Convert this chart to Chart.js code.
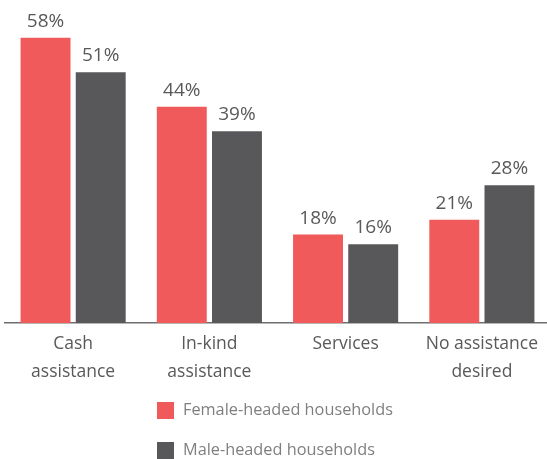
<!DOCTYPE html>
<html>
<head>
<meta charset="utf-8">
<script src="https://cdn.jsdelivr.net/npm/chart.js@4.4.1/dist/chart.umd.min.js"></script>
<style>
  html, body { margin: 0; padding: 0; background: #ffffff; overflow: hidden; }
  #wrap { width: 550px; height: 459px; position: relative; }
</style>
</head>
<body>
<div id="wrap"><canvas id="c"></canvas></div>
<script>
const categories = [["Cash", "assistance"], ["In-kind", "assistance"], ["Services"], ["No assistance", "desired"]];
const femaleValues = [58, 44, 18, 21];
const maleValues = [51, 39, 16, 28];
const seriesNames = ["Female-headed households", "Male-headed households"];
const seriesColors = ["#F05A5B", "#58585A"];

const FONT = "'Open Sans', 'Noto Sans', sans-serif";

const valueLabels = {
  id: 'valueLabels',
  afterDatasetsDraw(chart) {
    const ctx = chart.ctx;
    ctx.save();
    ctx.font = "19px " + FONT;
    ctx.fillStyle = "#595959";
    ctx.textAlign = "center";
    ctx.textBaseline = "alphabetic";
    chart.data.datasets.forEach((ds, di) => {
      const meta = chart.getDatasetMeta(di);
      meta.data.forEach((el, i) => {
        ctx.fillText(ds.data[i] + "%", el.x, el.y - 11);
      });
    });
    ctx.restore();
  }
};

const stackedLegend = {
  id: 'stackedLegend',
  afterDraw(chart) {
    const ctx = chart.ctx;
    ctx.save();
    ctx.font = "16.3px " + FONT;
    ctx.textAlign = "left";
    ctx.textBaseline = "middle";
    chart.data.datasets.forEach((ds, di) => {
      const cy = 410.5 + di * 40;
      ctx.fillStyle = ds.backgroundColor;
      ctx.fillRect(157, cy - 8.5, 17, 17);
      ctx.fillStyle = "#7F7F7F";
      ctx.fillText(ds.label, 183, cy);
    });
    ctx.restore();
  }
};

new Chart(document.getElementById('c'), {
  type: 'bar',
  data: {
    labels: categories,
    datasets: [
      { label: seriesNames[0], data: femaleValues, backgroundColor: seriesColors[0] },
      { label: seriesNames[1], data: maleValues, backgroundColor: seriesColors[1] }
    ]
  },
  options: {
    responsive: true,
    maintainAspectRatio: false,
    animation: false,
    layout: { padding: { left: 5, right: 0, top: 0, bottom: 66 } },
    categoryPercentage: 0.81,
    barPercentage: 0.905,
    plugins: {
      legend: { display: false },
      tooltip: { enabled: false }
    },
    scales: {
      x: {
        grid: { display: false, drawTicks: false },
        border: { display: true, color: "#6E6E6E", width: 1.5 },
        ticks: {
          color: "#595959",
          padding: 7,
          font: { family: FONT, size: 17.5, lineHeight: 1.6 }
        }
      },
      y: {
        display: false,
        min: 0,
        max: 65.7
      }
    }
  },
  plugins: [valueLabels, stackedLegend]
});
</script>
</body>
</html>
